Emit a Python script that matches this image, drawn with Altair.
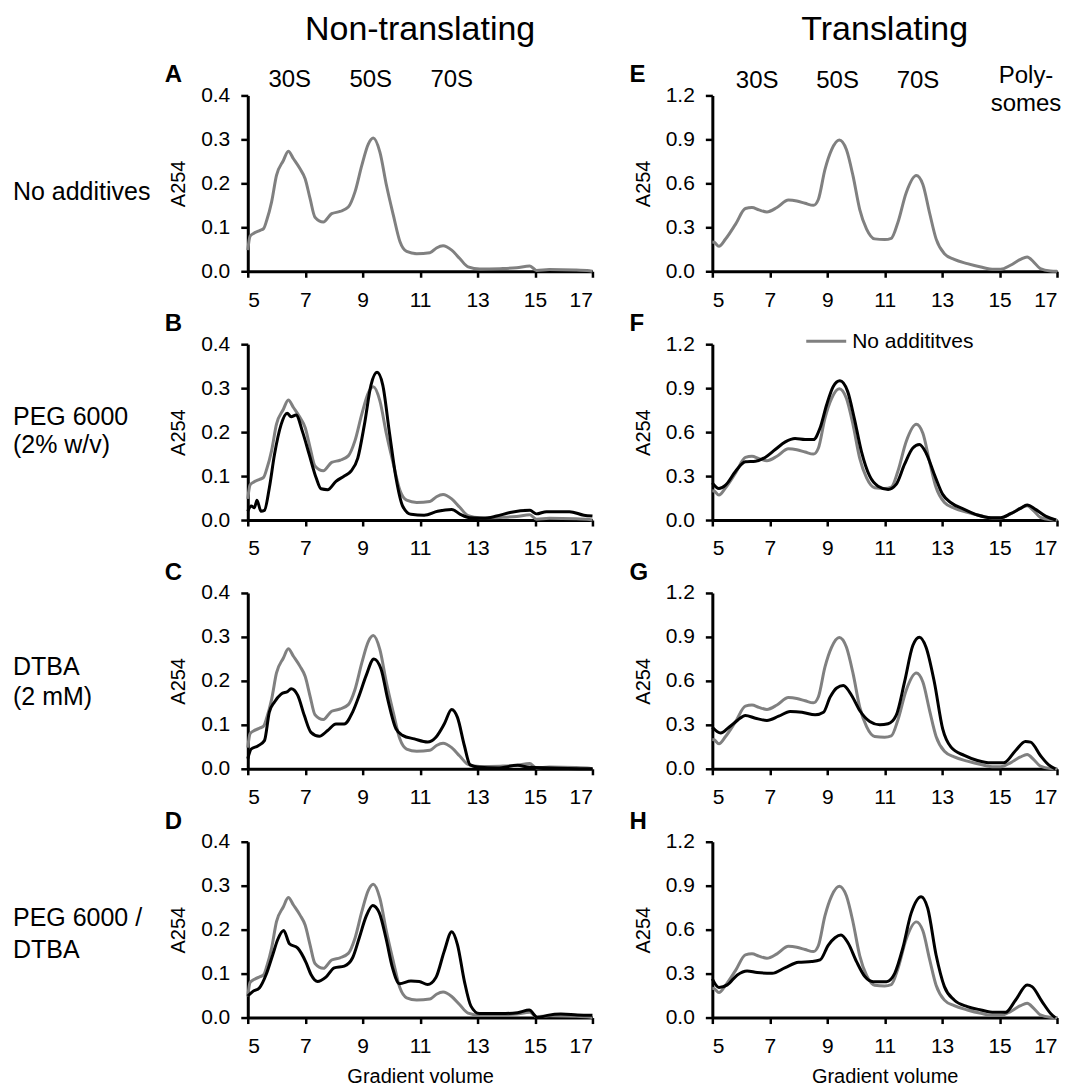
import altair as alt
import pandas as pd

# ---------------- data ----------------
# Reference trace "No additives", non-translating ribosomes (panels A-D, gray)
nt_ref_x = [5.0, 5.08, 5.2, 5.43, 5.55, 5.66, 5.83, 6.0, 6.24, 6.41, 6.59, 6.82, 7.0, 7.17, 7.34,
            7.63, 7.92, 8.21, 8.5, 8.73, 8.97, 9.2, 9.37, 9.6, 9.83, 10.07, 10.3, 10.53, 10.88,
            11.34, 11.57, 11.8, 12.1, 12.38, 12.67, 13.08, 13.78, 14.36, 14.82, 15.05, 15.5,
            16.4, 16.9, 17.0]
nt_ref_y = [0.048, 0.08, 0.086, 0.093, 0.097, 0.116, 0.158, 0.218, 0.252, 0.273, 0.256, 0.233,
            0.21, 0.165, 0.123, 0.112, 0.131, 0.136, 0.146, 0.18, 0.241, 0.29, 0.303, 0.271,
            0.195, 0.127, 0.067, 0.045, 0.040, 0.042, 0.053, 0.058, 0.048, 0.029, 0.01, 0.005,
            0.006, 0.008, 0.012, 0.002, 0.004, 0.003, 0.001, 0.0]

# Reference trace "No additives", translating ribosomes (panels E-H, gray)
t_ref_x = [5.0, 5.06, 5.23, 5.46, 5.81, 6.15, 6.38, 6.62, 6.9, 7.25, 7.65, 7.94, 8.23, 8.52,
           8.69, 8.92, 9.15, 9.42, 9.67, 9.9, 10.13, 10.37, 10.65, 11.0, 11.23, 11.46, 11.75,
           12.1, 12.33, 12.56, 12.79, 13.08, 13.42, 13.88, 14.35, 14.81, 15.04, 15.38, 15.73,
           15.96, 16.19, 16.42, 16.77, 17.0]
t_ref_y = [0.2, 0.198, 0.171, 0.22, 0.322, 0.428, 0.435, 0.419, 0.405, 0.435, 0.486, 0.48,
           0.464, 0.45, 0.49, 0.694, 0.829, 0.896, 0.829, 0.649, 0.423, 0.288, 0.221, 0.216,
           0.225, 0.333, 0.536, 0.653, 0.592, 0.401, 0.221, 0.119, 0.081, 0.052, 0.029, 0.014,
           0.014, 0.041, 0.081, 0.097, 0.063, 0.018, 0.002, 0.0]

# B: PEG 6000, non-translating
b_x = [5.0, 5.12, 5.23, 5.32, 5.46, 5.58, 5.75, 5.93, 6.16, 6.37, 6.51, 6.68, 6.91, 7.14, 7.38,
       7.55, 7.78, 8.07, 8.36, 8.59, 8.83, 9.06, 9.29, 9.5, 9.7, 9.93, 10.16, 10.39, 10.68,
       11.14, 11.61, 12.1, 12.4, 12.73, 13.2, 13.66, 14.13, 14.82, 15.05, 15.4, 16.2, 16.7, 17.0]
b_y = [0.02, 0.032, 0.028, 0.045, 0.02, 0.022, 0.073, 0.149, 0.217, 0.243, 0.235, 0.239, 0.2,
       0.149, 0.096, 0.071, 0.069, 0.088, 0.1, 0.111, 0.141, 0.217, 0.307, 0.336, 0.307, 0.2,
       0.096, 0.032, 0.013, 0.011, 0.02, 0.024, 0.013, 0.005, 0.004, 0.009, 0.017, 0.022,
       0.014, 0.019, 0.019, 0.011, 0.009]

# C: DTBA, non-translating
c_x = [5.0, 5.12, 5.35, 5.58, 5.75, 5.93, 6.16, 6.39, 6.51, 6.74, 6.97, 7.2, 7.49, 7.78, 8.07,
       8.36, 8.65, 8.88, 9.12, 9.39, 9.64, 9.87, 10.16, 10.39, 10.8, 11.26, 11.55, 11.84, 12.1,
       12.3, 12.54, 12.74, 13.0, 13.7, 14.4, 14.75, 15.55, 17.0]
c_y = [0.023, 0.045, 0.052, 0.064, 0.129, 0.152, 0.17, 0.176, 0.182, 0.167, 0.121, 0.083,
       0.074, 0.087, 0.102, 0.102, 0.129, 0.167, 0.212, 0.25, 0.227, 0.159, 0.091, 0.076,
       0.068, 0.061, 0.072, 0.102, 0.135, 0.117, 0.053, 0.009, 0.004, 0.002, 0.008, 0.004,
       0.002, 0.0]

# D: PEG 6000 / DTBA, non-translating
d_x = [5.0, 5.17, 5.41, 5.64, 5.87, 6.04, 6.25, 6.45, 6.74, 7.03, 7.2, 7.43, 7.72, 8.01, 8.36,
       8.65, 8.88, 9.12, 9.35, 9.58, 9.81, 10.04, 10.28, 10.68, 10.97, 11.26, 11.55, 11.84,
       12.1, 12.3, 12.54, 12.77, 13.06, 13.81, 14.39, 14.8, 15.09, 15.43, 15.9, 16.48, 17.0]
d_y = [0.049, 0.059, 0.068, 0.098, 0.143, 0.177, 0.198, 0.168, 0.158, 0.125, 0.098, 0.082,
       0.092, 0.113, 0.117, 0.136, 0.181, 0.23, 0.255, 0.238, 0.181, 0.113, 0.077, 0.083,
       0.082, 0.075, 0.091, 0.151, 0.195, 0.166, 0.083, 0.026, 0.009, 0.009, 0.011, 0.017,
       0.0, 0.005, 0.008, 0.006, 0.005]

# F: PEG 6000, translating
f_x = [5.0, 5.23, 5.46, 5.81, 6.15, 6.5, 6.85, 7.19, 7.54, 7.88, 8.23, 8.52, 8.75, 8.98, 9.21,
       9.44, 9.71, 9.94, 10.19, 10.48, 10.77, 11.12, 11.4, 11.69, 11.98, 12.21, 12.44, 12.73,
       13.02, 13.31, 13.77, 14.23, 14.69, 15.04, 15.38, 15.73, 15.96, 16.25, 16.6, 16.96]
f_y = [0.254, 0.215, 0.238, 0.333, 0.397, 0.401, 0.429, 0.481, 0.533, 0.556, 0.549, 0.549,
       0.628, 0.787, 0.912, 0.95, 0.878, 0.696, 0.469, 0.299, 0.231, 0.209, 0.243, 0.379,
       0.492, 0.515, 0.458, 0.311, 0.175, 0.118, 0.073, 0.034, 0.016, 0.016, 0.043, 0.079,
       0.102, 0.073, 0.027, 0.0]

# G: DTBA, translating
g_x = [5.0, 5.29, 5.58, 5.87, 6.15, 6.5, 6.9, 7.31, 7.71, 8.12, 8.58, 8.87, 9.1, 9.33, 9.56,
       9.85, 10.13, 10.48, 10.83, 11.12, 11.4, 11.69, 11.98, 12.21, 12.44, 12.73, 13.02, 13.31,
       13.77, 14.23, 14.69, 15.15, 15.56, 15.9, 16.08, 16.42, 16.71, 16.94]
g_y = [0.284, 0.245, 0.284, 0.33, 0.364, 0.345, 0.33, 0.359, 0.391, 0.386, 0.368, 0.386,
       0.489, 0.552, 0.568, 0.5, 0.398, 0.323, 0.3, 0.307, 0.364, 0.591, 0.841, 0.898, 0.83,
       0.591, 0.273, 0.148, 0.091, 0.057, 0.041, 0.041, 0.125, 0.186, 0.182, 0.091, 0.027, 0.0]

# H: PEG 6000 / DTBA, translating
h_x = [5.0, 5.23, 5.52, 5.87, 6.21, 6.56, 7.08, 7.54, 8.0, 8.46, 8.75, 9.04, 9.27, 9.48, 9.73,
       10.02, 10.31, 10.6, 11.06, 11.35, 11.63, 11.92, 12.27, 12.5, 12.79, 13.08, 13.42, 13.88,
       14.35, 14.81, 15.21, 15.56, 15.96, 16.13, 16.48, 16.77, 16.94]
h_y = [0.264, 0.205, 0.223, 0.291, 0.318, 0.307, 0.302, 0.341, 0.377, 0.382, 0.393, 0.495,
       0.545, 0.564, 0.507, 0.382, 0.28, 0.245, 0.245, 0.302, 0.473, 0.711, 0.825, 0.745,
       0.427, 0.211, 0.12, 0.075, 0.052, 0.036, 0.036, 0.12, 0.223, 0.211, 0.109, 0.03, 0.0]

x_ticks = [5, 7, 9, 11, 13, 15, 17]
nt_y_ticks = [0.0, 0.1, 0.2, 0.3, 0.4]
t_y_ticks = [0.0, 0.3, 0.6, 0.9, 1.2]

nt_peak_labels = ["30S", "50S", "70S"]
nt_peak_pos = [6.46, 9.28, 12.1]
t_peak_labels = ["30S", "50S", "70S"]
t_peak_pos = [6.56, 9.36, 12.16]

# ---------------- styling ----------------
W, H = 345, 176
FONT = "Liberation Sans"
GRAY = "#808080"
LW = 3


def df(xs, ys):
    return pd.DataFrame({"x": xs, "y": ys})


ONE = pd.DataFrame({"k": [0]})


def text_layer(txt, x, y, size, align="left", baseline="alphabetic", weight="normal", lh=None):
    kw = dict(text=txt, fontSize=size, font=FONT, align=align, baseline=baseline,
              fontWeight=weight, color="black")
    if lh is not None:
        kw["lineHeight"] = lh
    return alt.Chart(ONE).mark_text(**kw).encode(x=alt.value(x), y=alt.value(y))


def panel(letter, ymax, yticks, ref, sample=None, xtitle=False, row_label=None, row_y=0,
          row_lh=28, col_title=None, peaks=None, peak_y=-8, legend=False):
    xenc = alt.X("x:Q", scale=alt.Scale(domain=[5, 17], nice=False, zero=False),
                 axis=alt.Axis(values=x_ticks, format="d",
                               title="Gradient volume" if xtitle else None))
    yenc = alt.Y("y:Q", scale=alt.Scale(domain=[0, ymax], nice=False),
                 axis=alt.Axis(values=yticks, format=".1f", title="A254"))
    layers = [alt.Chart(ref).mark_line(color=GRAY, strokeWidth=LW, interpolate="monotone")
              .encode(x=xenc, y=yenc)]
    if sample is not None:
        layers.append(alt.Chart(sample)
                      .mark_line(color="black", strokeWidth=LW, interpolate="monotone")
                      .encode(x=xenc, y=yenc))
    layers.append(text_layer(letter, -83, -13, 24, weight="bold"))
    if row_label is not None:
        layers.append(text_layer(row_label, -235, row_y, 25, lh=row_lh))
    if col_title is not None:
        layers.append(text_layer(col_title, W / 2, -55, 34, align="center"))
    if peaks is not None:
        pdf = pd.DataFrame({"x": peaks[1], "label": peaks[0]})
        layers.append(alt.Chart(pdf).mark_text(fontSize=24, font=FONT, color="black",
                                               baseline="alphabetic")
                      .encode(x=xenc, y=alt.value(peak_y), text="label:N"))
    if legend:
        layers.append(alt.Chart(ONE).mark_rule(color=GRAY, strokeWidth=LW)
                      .encode(x=alt.value(94), x2=alt.value(134), y=alt.value(-3)))
        layers.append(text_layer("No addititves", 140, -2, 21, baseline="middle"))
    return alt.layer(*layers).properties(width=W, height=H)


nt_ref = df(nt_ref_x, nt_ref_y)
t_ref = df(t_ref_x, t_ref_y)

pA = panel("A", 0.4, nt_y_ticks, nt_ref, row_label="No additives", row_y=105,
           col_title="Non-translating", peaks=(nt_peak_labels, nt_peak_pos), peak_y=-8)
pE = panel("E", 1.2, t_y_ticks, t_ref, col_title="Translating",
           peaks=(t_peak_labels, t_peak_pos), peak_y=-7)
pE = alt.layer(pE, text_layer(["Poly-", "somes"], 314, -12, 24, align="center", lh=28))
pB = panel("B", 0.4, nt_y_ticks, nt_ref, df(b_x, b_y), row_label=["PEG 6000", "(2% w/v)"],
           row_y=81, row_lh=28)
pF = panel("F", 1.2, t_y_ticks, t_ref, df(f_x, f_y), legend=True)
pC = panel("C", 0.4, nt_y_ticks, nt_ref, df(c_x, c_y), row_label=["DTBA", "(2 mM)"],
           row_y=82, row_lh=30)
pG = panel("G", 1.2, t_y_ticks, t_ref, df(g_x, g_y))
pD = panel("D", 0.4, nt_y_ticks, nt_ref, df(d_x, d_y), xtitle=True,
           row_label=["PEG 6000 /", "DTBA"], row_y=84, row_lh=32)
pH = panel("H", 1.2, t_y_ticks, t_ref, df(h_x, h_y), xtitle=True)

chart = alt.concat(pA, pE, pB, pF, pC, pG, pD, pH, columns=2,
                   spacing={"row": 73, "column": 120}, bounds="flush")
chart = (chart.configure_view(stroke=None)
         .configure_axis(domainColor="black", domainWidth=3, tickColor="black", tickWidth=2.5,
                         grid=False, labelFont=FONT, labelFontSize=21, labelColor="black",
                         titleFont=FONT, titleFontSize=20, titleFontWeight="normal",
                         titleColor="black")
         .configure_axisX(tickSize=6, labelPadding=12, titlePadding=10, titleFontSize=20)
         .configure_axisY(tickSize=7, labelPadding=11, titlePadding=12))

chart.save("out.html", embed_options={"renderer": "svg", "actions": False})
